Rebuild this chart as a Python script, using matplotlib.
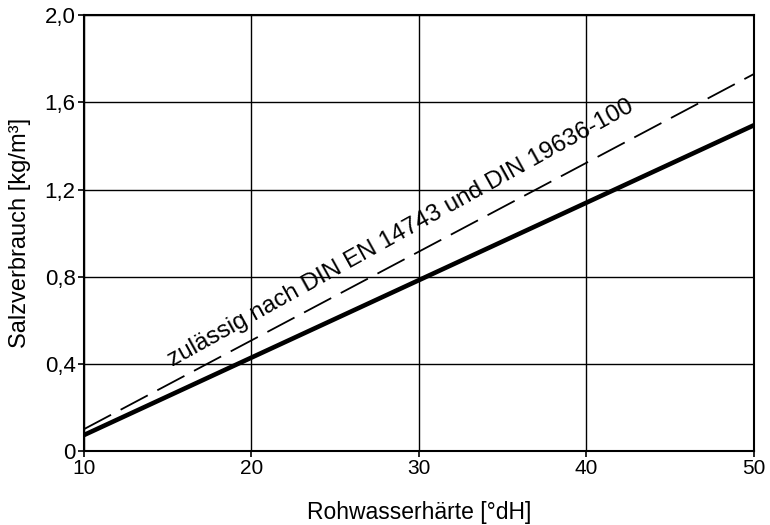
import matplotlib
matplotlib.use("Agg")
import matplotlib.pyplot as plt

# Rohwasserhärte [°dH] vs Salzverbrauch [kg/m³]
haerte = [10, 50]
salz_ist = [0.073, 1.495]
salz_zulaessig = [0.10, 1.73]

x_ticks = [10, 20, 30, 40, 50]
y_ticks = [0, 0.4, 0.8, 1.2, 1.6, 2.0]
y_tick_labels = ["0", "0,4", "0,8", "1,2", "1,6", "2,0"]

plt.rcParams['font.family'] = ['Liberation Sans', 'DejaVu Sans']

fig, ax = plt.subplots(figsize=(7.7, 5.25), dpi=100)
fig.subplots_adjust(left=0.109, right=0.979, top=0.971, bottom=0.141)

ax.plot(haerte, salz_zulaessig, color='black', lw=1.3, dashes=(17, 6))
ax.plot(haerte, salz_ist, color='black', lw=3.3, solid_capstyle='butt')

ax.set_xlim(10, 50)
ax.set_ylim(0, 2.0)
ax.set_xticks(x_ticks)
ax.set_yticks(y_ticks)
ax.set_yticklabels(y_tick_labels)
ax.grid(True, color='black', lw=1.0)
ax.tick_params(direction='out', length=4, width=1.2, pad=2)
ax.tick_params(axis='x', labelsize=15)
ax.tick_params(axis='y', labelsize=16)
for s in ax.spines.values():
    s.set_linewidth(1.5)

ax.text(28.9, 1.0, "zulässig nach DIN EN 14743 und DIN 19636-100",
        rotation=29, ha='center', va='center', fontsize=17.5)

ax.set_xlabel("Rohwasserhärte [°dH]", fontsize=16.5, labelpad=16)
ax.set_ylabel("Salzverbrauch [kg/m³]", fontsize=17, labelpad=10)

plt.savefig("out.png", dpi=100)
plt.close()
